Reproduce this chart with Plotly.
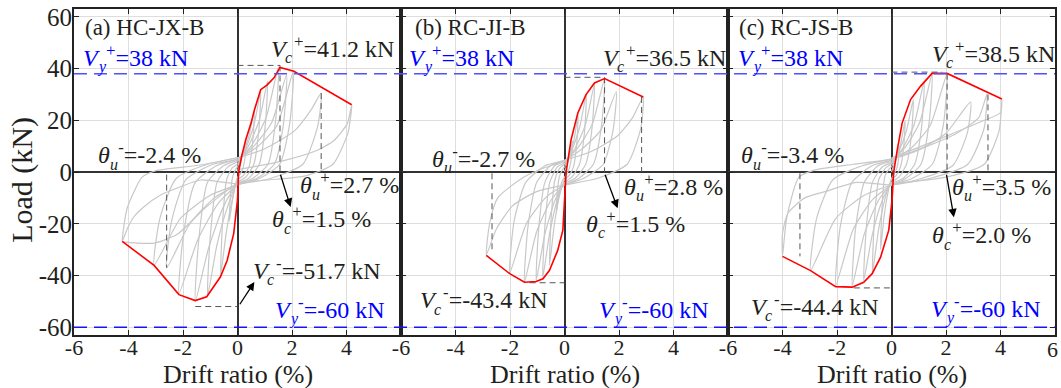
import plotly.graph_objects as go

# ---------------- data ----------------
x_tick_vals = [-6, -4, -2, 0, 2, 4, 6]
x_tick_text = ["-6", "-4", "-2", "0", "2", "4", ""]
last_tick_text = "6"
y_tick_vals = [-60, -40, -20, 0, 20, 40, 60]
y_tick_text = ["-60", "-40", "-20", "0", "20", "40", "60"]
panel_names = ["(a) HC-JX-B", "(b) RC-JI-B", "(c) RC-JS-B"]
vy_pos = 38
vy_neg = -60

# red skeleton (envelope) curves
env_a_x = [-4.23, -3.06, -2.15, -1.55, -1.13, -0.63, -0.38, -0.14, 0.0, 0.04, 0.15, 0.3, 0.5, 0.62, 0.85, 1.09, 1.34, 1.56, 2.07, 4.19]
env_a_y = [-26.8, -36.1, -47.4, -49.7, -48.2, -40.6, -34.2, -23.8, -10.8, 0, 6, 12.4, 19, 24, 31.8, 33.7, 36.4, 40.4, 38.9, 26]
env_b_x = [-2.87, -2.01, -1.47, -1.04, -0.79, -0.55, -0.25, -0.06, 0.0, 0.06, 0.24, 0.49, 0.79, 1.1, 1.47, 2.89]
env_b_y = [-32.2, -39.3, -42.6, -42.3, -41.3, -38, -30.3, -22.5, -11, 0, 12.4, 22.8, 29.9, 34.4, 36.1, 29]
env_c_x = [-4.0, -2.97, -2.05, -1.44, -1.02, -0.71, -0.4, -0.1, 0.02, 0.08, 0.21, 0.39, 0.7, 1.06, 1.49, 2.04, 4.05]
env_c_y = [-32.6, -38.1, -44.3, -44.5, -42.6, -39.3, -32.9, -22.5, -10.9, 0, 8.5, 18.9, 28, 33.1, 38.1, 38.1, 28.2]

# grey hysteresis cycles, one [x-list, y-list] per cycle
loops_a = [
    [[0, 0.1, 0.2, 0.32, 0.28, 0.2, 0.1, 0, -0.1, -0.2, -0.3, -0.26, -0.18, -0.08, 0],
     [0, 3, 7, 12, 6, 1.5, -0.8, -2, -6, -12, -19, -9, -2, 0.8, 2]],
    [[0, 0.2, 0.42, 0.62, 0.56, 0.42, 0.2, 0, -0.2, -0.42, -0.62, -0.55, -0.4, -0.2, 0],
     [2, 7, 14, 24, 12, 2, -1.5, -3, -11, -24, -40, -20, -3, 1.5, 3]],
    [[0, 0.3, 0.6, 0.85, 0.78, 0.6, 0.3, 0, -0.35, -0.75, -1.1, -1.0, -0.75, -0.35, 0],
     [3, 9, 18, 31, 16, 3, -2, -4, -13, -28, -48, -25, -4, 2, 4]],
    [[0, 0.4, 0.8, 1.1, 1.02, 0.8, 0.4, 0, -0.5, -1.05, -1.55, -1.42, -1.1, -0.5, 0],
     [4, 10, 20, 35, 18, 3, -2.5, -4.5, -13, -29, -50, -26, -4, 2.5, 4.5]],
    [[0, 0.5, 1.05, 1.5, 1.4, 1.12, 0.55, 0, -0.7, -1.45, -2.15, -1.98, -1.55, -0.75, 0],
     [4.5, 10, 21, 40.5, 20, 3, -2.5, -5, -12, -26, -47, -24, -4, 2.5, 5]],
    [[0, 0.6, 1.25, 1.8, 1.68, 1.35, 0.7, 0, -0.85, -1.75, -2.6, -2.42, -1.9, -0.9, 0],
     [5, 10, 19, 37.5, 18, 3, -2.5, -5, -10, -20, -37, -19, -3, 3, 5]],
    [[0, 0.7, 1.45, 2.05, 1.92, 1.55, 0.8, 0, -1.0, -2.1, -3.06, -2.85, -2.25, -1.1, 0],
     [5, 9.5, 18, 39, 19, 3, -2.5, -5, -9, -18, -36, -18, -2.5, 3, 5.5]],
    [[0, 1.0, 2.1, 2.7, 3.07, 2.95, 2.4, 1.2, 0, -1.36, -2.09, -2.82, -3.43, -3.8, -4.04, -4.23,
      -4.05, -3.5, -3.0, -1.5, 0],
     [5.5, 9, 16, 24, 30.5, 18, 3, -2.5, -4.5, -3.1, -5.7, -8.9, -13.4, -17.3, -21.8, -26.8,
      -14, -2, 0.5, 2.5, 5.5]],
    [[0, 0.48, 1.7, 2.93, 3.54, 4.03, 4.15, 4.2, 4.05, 3.5, 2.5, 1.2, 0],
     [1, 1.8, 4.4, 8.4, 12.2, 18.7, 24, 26, 15, 3, -1.5, -3, -4]],
    [[0, -1.2, -2.2, -3.06, -4.23], [-4, -14, -24, -27.5, -27]],
]
loops_b = [
    [[0, 0.1, 0.2, 0.3, 0.26, 0.18, 0.08, 0, -0.1, -0.2, -0.3, -0.26, -0.18, -0.08, 0],
     [0, 3, 7, 12, 6, 1.5, -0.8, -2, -4, -8, -16, -7, -1.5, 0.8, 2]],
    [[0, 0.17, 0.34, 0.5, 0.45, 0.33, 0.16, 0, -0.18, -0.37, -0.55, -0.49, -0.35, -0.17, 0],
     [2, 6, 12, 22, 11, 2, -1.5, -3, -9, -20, -36, -18, -3, 1.5, 3]],
    [[0, 0.27, 0.55, 0.8, 0.73, 0.55, 0.27, 0, -0.27, -0.55, -0.8, -0.72, -0.54, -0.26, 0],
     [3, 8.5, 17, 30, 15, 3, -2, -4, -11, -24, -41, -21, -4, 2, 3.5]],
    [[0, 0.38, 0.76, 1.1, 1.01, 0.78, 0.38, 0, -0.35, -0.72, -1.04, -0.94, -0.72, -0.35, 0],
     [3.5, 9, 18, 34, 17, 3, -2.5, -4.5, -11, -24, -42, -21, -4, 2.5, 4]],
    [[0, 0.5, 1.02, 1.47, 1.36, 1.06, 0.52, 0, -0.5, -1.02, -1.47, -1.34, -1.02, -0.5, 0],
     [4, 9.5, 18.5, 36, 18, 3, -2.5, -5, -11, -23, -42.6, -21, -4, 2.5, 4.5]],
    [[0, 0.65, 1.32, 1.9, 1.78, 1.42, 0.7, 0, -0.7, -1.4, -2.01, -1.85, -1.42, -0.7, 0],
     [4.5, 9, 16, 31, 16, 3, -2.5, -5, -10, -20, -39, -19, -4, 2.5, 4.5]],
    [[0, 1.0, 1.95, 2.5, 2.89, 2.8, 2.3, 1.2, 0, -1.0, -1.9, -2.5, -2.87, -2.75, -2.45, -1.5, -0.5, 0],
     [4.5, 8, 14, 21, 29, 17, 3, -2.5, -5, -7.5, -13, -22, -32, -20, -10, -2, 2.5, 4]],
]
loops_c = [
    [[0, 0.1, 0.2, 0.3, 0.26, 0.18, 0.08, 0, -0.13, -0.27, -0.4, -0.35, -0.25, -0.1, 0],
     [0, 3, 6, 10, 5, 1, -1, -2.5, -8, -17, -30, -14, -2, 1, 2]],
    [[0, 0.17, 0.34, 0.5, 0.45, 0.33, 0.16, 0, -0.23, -0.47, -0.7, -0.63, -0.47, -0.22, 0],
     [2, 5.5, 11, 20, 10, 2, -1.5, -3, -10, -22, -39, -19, -3, 1.5, 3]],
    [[0, 0.27, 0.55, 0.8, 0.73, 0.55, 0.27, 0, -0.34, -0.7, -1.02, -0.92, -0.7, -0.33, 0],
     [3, 8, 16, 28, 14, 3, -2, -4, -11, -24, -42, -21, -4, 2, 3.5]],
    [[0, 0.4, 0.82, 1.2, 1.1, 0.85, 0.42, 0, -0.48, -1.0, -1.44, -1.32, -1.0, -0.48, 0],
     [3.5, 9, 18, 35, 17, 3, -2.5, -4.5, -11, -24, -44, -22, -4, 2.5, 4]],
    [[0, 0.5, 1.03, 1.49, 1.38, 1.08, 0.53, 0, -0.68, -1.4, -2.05, -1.88, -1.45, -0.7, 0],
     [4, 9.5, 19, 38, 19, 3, -2.5, -5, -10.5, -22, -44, -21, -4, 2.5, 4.5]],
    [[0, 0.7, 1.42, 2.04, 1.9, 1.5, 0.75, 0, -1.0, -2.05, -2.97, -2.75, -2.15, -1.05, 0],
     [4.5, 9, 18, 38, 18, 3, -2.5, -5, -9, -18, -38, -18, -3, 2.5, 5]],
    [[0, 1.0, 2.0, 2.9, 2.78, 2.25, 1.1, 0, -1.3, -2.4, -3.18, -3.8, -4.0, -4.0,
      -3.85, -3.4, -2.8, -1.4, 0],
     [5, 8.5, 15, 27, 15, 2.5, -2.5, -5, -4, -7.5, -10, -15.9, -23.7, -32.6,
      -18, -2, 0.8, 3, 5]],
    [[0, 1.2, 2.4, 3.2, 3.5, 3.4, 2.8, 1.4, 0],
     [5, 9.5, 15, 21, 30, 17, 3, -2.5, -5]],
    [[0, 1.0, 2.27, 3.3, 4.0, 4.05, 3.95, 3.4, 2.0, 0],
     [5.5, 9.5, 15, 19.5, 23, 28, 16, 3, -2, -4.5]],
]

# characteristic-point guide lines (dashed), [x-list, y-list] per segment
guides_a = [[[0, 1.56], [41.2, 41.2]], [[1.56, 1.56], [41.2, 0]], [[3.07, 3.07], [30.5, 0]],
            [[-2.6, -2.6], [-1, -37]], [[-1.55, 0], [-52, -52]]]
guides_b = [[[0, 1.47], [36.6, 36.6]], [[1.47, 1.47], [36.6, 0]], [[2.83, 2.83], [29, 0]],
            [[-2.66, -2.66], [-0.5, -31]], [[-1.28, 0], [-42.8, -42.8]]]
guides_c = [[[0, 1.86], [38.6, 38.6]], [[2.04, 2.04], [38, 0]], [[3.54, 3.54], [30, 0]],
            [[-3.36, -3.36], [-0.5, -32.6]], [[-1.38, 0], [-44.8, -44.8]]]

# label values
vc_pos = ["41.2", "36.5", "38.5"]
vc_neg = ["-51.7", "-43.4", "-44.4"]
th_u_neg = ["-2.4", "-2.7", "-3.4"]
th_u_pos = ["2.7", "2.8", "3.5"]
th_c_pos = ["1.5", "1.5", "2.0"]

# ---------------- figure ----------------
FONT = "Liberation Serif"
TXT = "#231f20"
fig = go.Figure()

envs = [(env_a_x, env_a_y), (env_b_x, env_b_y), (env_c_x, env_c_y)]
loops = [loops_a, loops_b, loops_c]
guides = [guides_a, guides_b, guides_c]
xrefs = ["x", "x2", "x3"]
yrefs = ["y", "y2", "y3"]

for i in range(3):
    for lx, ly in loops[i]:
        fig.add_trace(go.Scatter(x=lx, y=ly, mode="lines", xaxis=xrefs[i], yaxis=yrefs[i],
                                 line=dict(color="#c8c8c8", width=1.2, shape="spline", smoothing=0.6),
                                 hoverinfo="skip", showlegend=False))
    for gx, gy in guides[i]:
        fig.add_trace(go.Scatter(x=gx, y=gy, mode="lines", xaxis=xrefs[i], yaxis=yrefs[i],
                                 line=dict(color="#555555", width=1, dash="6px,4px"),
                                 hoverinfo="skip", showlegend=False))
    fig.add_trace(go.Scatter(x=envs[i][0], y=envs[i][1], mode="lines", xaxis=xrefs[i], yaxis=yrefs[i],
                             line=dict(color="#ff0000", width=1.6), hoverinfo="skip", showlegend=False))

TICK_FS = 22

def xaxis_cfg(domain, anchor):
    return dict(domain=domain, anchor=anchor, range=[-6, 6], tickvals=x_tick_vals, ticktext=x_tick_text,
                ticks="inside", ticklen=5, tickcolor="#222",
                showline=True, linecolor="#222", linewidth=2, mirror="ticks",
                showgrid=True, gridcolor="#dedede", gridwidth=1,
                zeroline=True, zerolinecolor="#333", zerolinewidth=1.5,
                tickfont=dict(family=FONT, size=TICK_FS, color=TXT), ticklabelstandoff=-8,
                automargin=False)

def yaxis_cfg(anchor, labels):
    d = dict(anchor=anchor, range=[-63, 63], tickvals=y_tick_vals, ticktext=y_tick_text,
             ticks="inside", ticklen=5, tickcolor="#222",
             showline=True, linecolor="#222", linewidth=2, mirror="ticks",
             showgrid=True, gridcolor="#dedede", gridwidth=1,
             zeroline=True, zerolinecolor="#333", zerolinewidth=1.5,
             tickfont=dict(family=FONT, size=25, color=TXT), ticklabelstandoff=-5,
             showticklabels=labels, automargin=False)
    if anchor != "x":
        d["matches"] = "y"
    return d

fig.update_layout(
    width=1061, height=388,
    margin=dict(l=74, r=6, t=9, b=53, autoexpand=False),
    paper_bgcolor="white", plot_bgcolor="white",
    xaxis=xaxis_cfg([0, 1/3], "y"),
    xaxis2=xaxis_cfg([1/3, 2/3], "y2"),
    xaxis3=xaxis_cfg([2/3, 1], "y3"),
    yaxis=yaxis_cfg("x", True),
    yaxis2=yaxis_cfg("x2", False),
    yaxis3=yaxis_cfg("x3", False),
)

# last x tick label of panel (c), placed so it is not clipped by the page edge
fig.add_annotation(xref="x3", yref="paper", x=6, y=-0.046, text=last_tick_text, showarrow=False,
                   xanchor="center", yanchor="middle", xshift=-3,
                   font=dict(family=FONT, size=TICK_FS, color=TXT))

# axis titles
for xr in xrefs:
    fig.add_annotation(xref=xr, yref="paper", x=0, y=-0.12, text="Drift ratio (%)", showarrow=False,
                       xanchor="center", yanchor="middle", font=dict(family=FONT, size=26, color=TXT))
fig.add_annotation(xref="paper", yref="y", x=-0.053, y=-3, text="Load (kN)", showarrow=False, textangle=-90,
                   xanchor="center", yanchor="middle", font=dict(family=FONT, size=30, color=TXT))

# yield-load lines across all panels
fig.add_shape(type="line", xref="paper", yref="y", x0=0, x1=1, y0=vy_pos, y1=vy_pos,
              line=dict(color="rgb(80,80,255)", width=1.6, dash="13px,7px"))
fig.add_shape(type="line", xref="paper", yref="y", x0=0, x1=1, y0=vy_neg, y1=vy_neg,
              line=dict(color="rgb(20,20,255)", width=1.6, dash="13px,7px"))

FS = 24
def ann(xr, x, y, sym, sub, sup, rest, color=TXT, size=FS, symw=14):
    # main symbol + superscript + value, then the subscript placed under the superscript
    fig.add_annotation(xref=xr, yref="y", x=x, y=y,
                       text=f"<i>{sym}</i><sup>\u2002{sup}</sup>{rest}", showarrow=False,
                       xanchor="left", yanchor="middle",
                       font=dict(family=FONT, size=size, color=color))
    fig.add_annotation(xref=xr, yref="y", x=x, y=y, xshift=symw, yshift=-11,
                       text=f"<i>{sub}</i>", showarrow=False,
                       xanchor="left", yanchor="middle",
                       font=dict(family=FONT, size=16, color=color))

pos = [
    dict(t=(-5.68, 55.7), vyp=(-5.75, 45), vcp=(1.14, 48.5), tun=(-5.2, 7.3), tup=(2.23, -4.3),
         tcp=(1.21, -17.5), vcn=(0.48, -37.3), vyn=(1.32, -52.6)),
    dict(t=(-5.56, 56), vyp=(-5.78, 45), vcp=(1.34, 45), tun=(-4.95, 5.8), tup=(2.12, -5),
         tcp=(0.73, -19.3), vcn=(-5.38, -48.7), vyn=(1.21, -52.6)),
    dict(t=(-5.68, 56), vyp=(-5.71, 45), vcp=(1.43, 46.5), tun=(-5.6, 7.3), tup=(2.16, -5),
         tcp=(1.43, -23.6), vcn=(-5.24, -51.4), vyn=(1.36, -52.2)),
]
for i in range(3):
    xr = xrefs[i]
    p = pos[i]
    fig.add_annotation(xref=xr, yref="y", x=p["t"][0], y=p["t"][1], text=panel_names[i], showarrow=False,
                       xanchor="left", yanchor="middle", font=dict(family=FONT, size=23, color=TXT))
    ann(xr, *p["vyp"], "V", "y", "+", f"={vy_pos} kN", color="#0000ff")
    ann(xr, *p["vcp"], "V", "c", "+", f"={vc_pos[i]} kN")
    ann(xr, *p["tun"], "θ", "u", "-", f"={th_u_neg[i]} %", symw=12)
    ann(xr, *p["tup"], "θ", "u", "+", f"={th_u_pos[i]} %", symw=12)
    ann(xr, *p["tcp"], "θ", "c", "+", f"={th_c_pos[i]} %", symw=12)
    ann(xr, *p["vcn"], "V", "c", "-", f"={vc_neg[i]} kN")
    ann(xr, *p["vyn"], "V", "y", "-", f"={vy_neg} kN", color="#0000ff")

# arrows (head at x,y; tail at ax,ay)
arrows = [("x", 1.95, -13.5, 1.56, -0.5), ("x", 0.62, -42.5, 0.05, -51.7),
          ("x2", 1.95, -14.0, 1.47, -0.5), ("x3", 2.29, -17.5, 2.01, -0.5)]
for xr, hx, hy, tx, ty in arrows:
    fig.add_annotation(xref=xr, yref="y", axref=xr, ayref="y", x=hx, y=hy, ax=tx, ay=ty,
                       text="", showarrow=True, arrowhead=2, arrowsize=1.3, arrowwidth=1.3,
                       arrowcolor="#000000")

fig.write_html("out.html", config={"displayModeBar": False},
               post_script="document.body.style.margin='0px';")
